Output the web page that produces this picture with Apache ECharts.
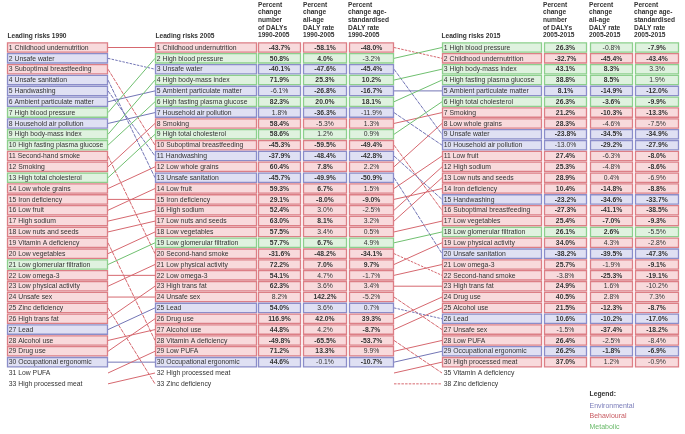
<!DOCTYPE html>
<html><head><meta charset="utf-8">
<script src="https://cdn.jsdelivr.net/npm/echarts@6/dist/echarts.min.js"></script>
<style>html,body{margin:0;padding:0;background:#fff}#c{width:685px;height:434px}</style>
</head><body><div id="c"></div>
<script>
// ---------------- DATA ----------------
const risks1990 = ['Childhood undernutrition','Unsafe water','Suboptimal breastfeeding','Unsafe sanitation','Handwashing','Ambient particulate matter','High blood pressure','Household air pollution','High body-mass index','High fasting plasma glucose','Second-hand smoke','Smoking','High total cholesterol','Low whole grains','Iron deficiency','Low fruit','High sodium','Low nuts and seeds','Vitamin A deficiency','Low vegetables','Low glomerular filtration','Low omega-3','Low physical activity','Unsafe sex','Zinc deficiency','High trans fat','Lead','Alcohol use','Drug use','Occupational ergonomic','Low PUFA','High processed meat'];
const ranks1990 = [1,2,3,4,5,6,7,8,9,10,11,12,13,14,15,16,17,18,19,20,21,22,23,24,25,26,27,28,29,30,31,33];

const risks2005 = ['Childhood undernutrition','High blood pressure','Unsafe water','High body-mass index','Ambient particulate matter','High fasting plasma glucose','Household air pollution','Smoking','High total cholesterol','Suboptimal breastfeeding','Handwashing','Low whole grains','Unsafe sanitation','Low fruit','Iron deficiency','High sodium','Low nuts and seeds','Low vegetables','Low glomerular filtration','Second-hand smoke','Low physical activity','Low omega-3','High trans fat','Unsafe sex','Lead','Drug use','Alcohol use','Vitamin A deficiency','Low PUFA','Occupational ergonomic','High processed meat','Zinc deficiency'];
const ranks2005 = [1,2,3,4,5,6,7,8,9,10,11,12,13,14,15,16,17,18,19,20,21,22,23,24,25,26,27,28,29,30,32,33];

const risks2015 = ['High blood pressure','Childhood undernutrition','High body-mass index','High fasting plasma glucose','Ambient particulate matter','High total cholesterol','Smoking','Low whole grains','Unsafe water','Household air pollution','Low fruit','High sodium','Low nuts and seeds','Iron deficiency','Handwashing','Suboptimal breastfeeding','Low vegetables','Low glomerular filtration','Low physical activity','Unsafe sanitation','Low omega-3','Second-hand smoke','High trans fat','Drug use','Alcohol use','Lead','Unsafe sex','Low PUFA','Occupational ergonomic','High processed meat','Vitamin A deficiency','Zinc deficiency'];
const ranks2015 = [1,2,3,4,5,6,7,8,9,10,11,12,13,14,15,16,17,18,19,20,21,22,23,24,25,26,27,28,29,30,35,38];

// E = Environmental, B = Behavioural, M = Metabolic
const riskType = {
  'Childhood undernutrition':'B','Unsafe water':'E','Suboptimal breastfeeding':'B','Unsafe sanitation':'E','Handwashing':'E',
  'Ambient particulate matter':'E','High blood pressure':'M','Household air pollution':'E','High body-mass index':'M',
  'High fasting plasma glucose':'M','Second-hand smoke':'B','Smoking':'B','High total cholesterol':'M','Low whole grains':'B',
  'Iron deficiency':'B','Low fruit':'B','High sodium':'B','Low nuts and seeds':'B','Vitamin A deficiency':'B','Low vegetables':'B',
  'Low glomerular filtration':'M','Low omega-3':'B','Low physical activity':'B','Unsafe sex':'B','Zinc deficiency':'B',
  'High trans fat':'B','Lead':'E','Alcohol use':'B','Drug use':'B','Occupational ergonomic':'E','Low PUFA':'B','High processed meat':'B'
};

const numChange2005 = [-43.7,50.8,-40.1,71.9,-6.1,82.3,1.8,58.4,58.6,-45.3,-37.9,60.4,-45.7,59.3,29.1,52.4,63.0,57.5,57.7,-31.6,72.2,54.1,62.3,8.2,54.0,116.9,44.8,-49.8,71.2,44.6];
const rateChange2005 = [-58.1,4.0,-47.6,25.3,-26.8,20.0,-36.3,-5.3,1.2,-59.5,-48.4,7.8,-49.9,6.7,-8.0,3.0,8.1,3.4,6.7,-48.2,7.0,4.7,3.6,142.2,3.6,42.0,4.2,-65.5,13.3,-0.1];
const stdChange2005 = [-48.0,-3.2,-45.4,10.2,-16.7,18.1,-11.9,1.3,0.9,-49.4,-42.8,2.2,-50.9,1.5,-9.0,-2.5,3.2,0.5,4.9,-34.1,9.7,-1.7,3.4,-5.2,0.7,39.3,-8.7,-53.7,9.9,-10.7];
const sigNum2005  = [1,1,1,1,0,1,0,1,1,1,1,1,1,1,1,1,1,1,1,1,1,1,1,0,1,1,1,1,1,1];
const sigRate2005 = [1,1,1,1,1,1,1,0,0,1,1,1,1,1,1,0,1,0,1,1,1,0,0,1,0,1,0,1,1,0];
const sigStd2005  = [1,0,1,1,1,1,0,0,0,1,1,0,1,0,1,0,0,0,0,1,1,0,0,0,0,1,1,1,0,1];

const numChange2015 = [26.3,-32.7,43.1,38.8,8.1,26.3,21.2,28.3,-23.8,-13.0,27.4,25.3,28.9,10.4,-23.2,-27.3,25.4,26.1,34.0,-38.2,25.7,-3.8,24.9,40.5,21.5,10.6,-1.5,26.4,26.2,37.0];
const rateChange2015 = [-0.8,-45.4,8.3,8.5,-14.9,-3.6,-10.3,-4.6,-34.5,-29.2,-6.3,-4.8,0.4,-14.8,-34.6,-41.1,-7.0,2.6,4.3,-39.5,-1.9,-25.3,1.6,2.8,-12.3,-10.2,-37.4,-2.5,-1.8,1.2];
const stdChange2015 = [-7.9,-43.4,3.3,1.9,-12.0,-9.9,-13.3,-7.5,-34.9,-27.9,-8.0,-8.6,-6.9,-8.8,-33.7,-38.5,-9.3,-5.5,-2.8,-47.3,-9.1,-19.1,-10.2,7.3,-8.7,-17.0,-18.2,-8.4,-6.9,-0.9];
const sigNum2015  = [1,1,1,1,1,1,1,1,1,0,1,1,1,1,1,1,1,1,1,1,1,0,1,1,1,1,0,1,1,1];
const sigRate2015 = [0,1,1,1,1,1,1,0,1,1,0,0,0,1,1,1,1,1,0,1,0,1,0,0,1,1,1,0,1,0];
const sigStd2015  = [1,1,0,0,1,1,1,0,1,1,1,1,0,1,1,1,1,0,0,1,1,1,0,0,1,1,1,0,1,0];

const headerLeading = ['Leading risks 1990','Leading risks 2005','Leading risks 2015'];
const headerCols2005 = [['Percent','change','number','of DALYs','1990-2005'],['Percent','change','all-age','DALY rate','1990-2005'],['Percent','change age-','standardised','DALY rate','1990-2005']];
const headerCols2015 = [['Percent','change','number','of DALYs','2005-2015'],['Percent','change','all-age','DALY rate','2005-2015'],['Percent','change age-','standardised','DALY rate','2005-2015']];
const legendTitle = 'Legend:';
const legendItems = [['E','Environmental'],['B','Behavioural'],['M','Metabolic']];
const boxedCount = 30;

// ---------------- STYLE / LAYOUT ----------------
const COL = {
  E:{fill:'#dfe0f3', stroke:'#8b8dc9', line:'#7376b6', text:'#7b7dba'},
  B:{fill:'#f8dadc', stroke:'#dc7f86', line:'#d6686f', text:'#c85a61'},
  M:{fill:'#dff2df', stroke:'#8dcf8d', line:'#70c070', text:'#6cbb6c'}
};
const FONT = '"Liberation Sans", Arial, Helvetica, sans-serif';
const L = {
  name1990:[7,108], name2005:[155,257], num2005:[[258,301],[303,347],[349,394]],
  name2015:[442,542], num2015:[[544,587],[590,633],[635,679]],
  link1:[108,155], link2:[394,442]
};

// ---------------- BUILD ----------------
const cells = [];
function fmt(v){ return v.toFixed(1) + '%'; }
function addNameCol(list, ranks, xr){
  list.forEach((n,i)=>{
    cells.push({x0:xr[0], x1:xr[1], slot:i+1, type:riskType[n], text:ranks[i]+' '+n, bold:false, align:'left', box:i<boxedCount});
  });
}
function addNumCol(vals, sig, list, xr){
  vals.forEach((v,i)=>{
    cells.push({x0:xr[0], x1:xr[1], slot:i+1, type:riskType[list[i]], text:fmt(v), bold:!!sig[i], align:'center', box:true});
  });
}
addNameCol(risks1990, ranks1990, L.name1990);
addNameCol(risks2005, ranks2005, L.name2005);
addNameCol(risks2015, ranks2015, L.name2015);
addNumCol(numChange2005, sigNum2005, risks2005, L.num2005[0]);
addNumCol(rateChange2005, sigRate2005, risks2005, L.num2005[1]);
addNumCol(stdChange2005, sigStd2005, risks2005, L.num2005[2]);
addNumCol(numChange2015, sigNum2015, risks2015, L.num2015[0]);
addNumCol(rateChange2015, sigRate2015, risks2015, L.num2015[1]);
addNumCol(stdChange2015, sigStd2015, risks2015, L.num2015[2]);

const links = [];
function addLinks(listA, ranksA, listB, ranksB, xr){
  listA.forEach((n,i)=>{
    const j = listB.indexOf(n);
    if (j < 0) return;
    links.push({x0:xr[0], s0:i+1, x1:xr[1], s1:j+1, type:riskType[n], dashed: ranksB[j] > ranksA[i]});
  });
}
addLinks(risks1990, ranks1990, risks2005, ranks2005, L.link1);
addLinks(risks2005, ranks2005, risks2015, ranks2015, L.link2);

// ---------------- CHART ----------------
const PITCH = 10.85, FIRSTY = 47.5, H = 434;
const yMin = 1 - FIRSTY/PITCH, yMax = yMin + H/PITCH;

const graphics = [];
function txt(x,y,t,bold,size,fill){
  graphics.push({type:'text', x:x, y:y, silent:true, style:{text:t, fill:fill||'#333', font:(bold?'bold ':'')+size+'px '+FONT, textAlign:'left', textVerticalAlign:'middle'}});
}
txt(7.5,36,headerLeading[0],true,6.6);
txt(155.5,36,headerLeading[1],true,6.6);
txt(441.5,36,headerLeading[2],true,6.6);
[258,303,348].forEach((x,k)=>headerCols2005[k].forEach((ln,i)=>txt(x,4.8+i*7.7,ln,true,6.6)));
[543,589,634].forEach((x,k)=>headerCols2015[k].forEach((ln,i)=>txt(x,4.8+i*7.7,ln,true,6.6)));
txt(589.5,394.3,legendTitle,true,6.8);
legendItems.forEach((it,i)=>txt(589.5,405.6+i*10.8,it[1],false,7,COL[it[0]].text));

const chart = echarts.init(document.getElementById('c'), null, {renderer:'canvas'});
chart.setOption({
  animation:false,
  backgroundColor:'#fff',
  grid:{left:0,right:0,top:0,bottom:0},
  xAxis:{type:'value', min:0, max:685, show:false},
  yAxis:{type:'value', min:yMin, max:yMax, inverse:true, show:false},
  graphic:graphics,
  series:[
    {
      type:'custom', clip:false, silent:true,
      encode:{x:[0,2], y:[1,3]},
      data: links.map(l=>[l.x0,l.s0,l.x1,l.s1]),
      renderItem(params, api){
        const l = links[params.dataIndex];
        const p0 = api.coord([api.value(0), api.value(1)]);
        const p1 = api.coord([api.value(2), api.value(3)]);
        const steep = Math.abs(p1[1]-p0[1]) > 25;
        return {type:'line', shape:{x1:p0[0], y1:p0[1], x2:p1[0], y2:p1[1]},
          style:{stroke:COL[l.type].line, lineWidth:1, lineDash: l.dashed ? (steep ? [4,1] : [2.5,1.2]) : null}};
      }
    },
    {
      type:'custom', clip:false, silent:true,
      encode:{x:[0,2], y:1},
      data: cells.map(c=>[c.x0,c.slot,c.x1]),
      renderItem(params, api){
        const c = cells[params.dataIndex];
        const p0 = api.coord([api.value(0), api.value(1)]);
        const p1 = api.coord([api.value(2), api.value(1)]);
        const bh = api.size([0,1])[1]*0.86;
        const ch = [];
        if (c.box) ch.push({type:'rect', shape:{x:p0[0]+0.5, y:p0[1]-bh/2, width:p1[0]-p0[0]-1, height:bh},
          style:{fill:COL[c.type].fill, stroke:COL[c.type].stroke, lineWidth:1.3}});
        ch.push({type:'text', x: c.align==='center' ? (p0[0]+p1[0])/2 : p0[0]+1.8, y:p0[1]+0.3,
          style:{text:c.text, fill:'#333', font:(c.bold?'bold ':'')+'6.8px '+FONT,
            textAlign:c.align, textVerticalAlign:'middle'}});
        return {type:'group', children:ch};
      }
    }
  ]
});
</script>
</body></html>
